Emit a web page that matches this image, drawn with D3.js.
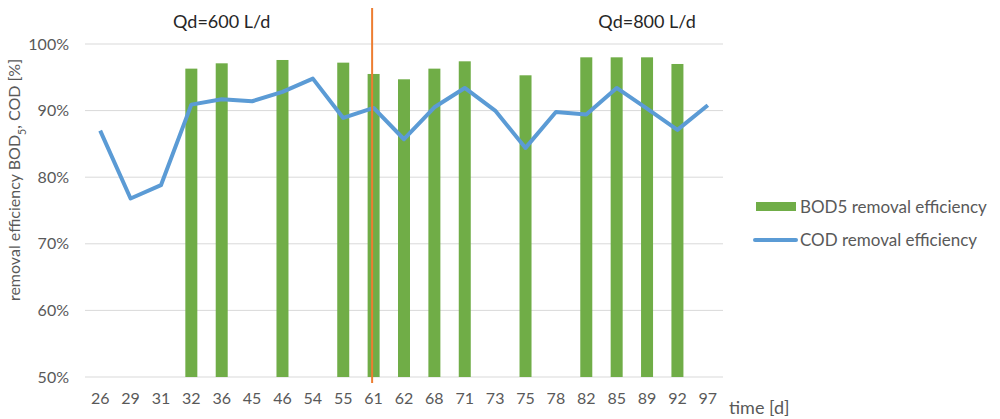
<!DOCTYPE html>
<html><head><meta charset="utf-8">
<script src="https://cdn.jsdelivr.net/npm/d3@7/dist/d3.min.js"></script>
<style>body{margin:0;background:#fff}svg{display:block}text{font-family:Lato,"Open Sans",sans-serif}</style>
</head><body><svg id="c" width="1000" height="419"></svg>
<script>
const categories = ["26","29","31","32","36","45","46","54","55","61","62","68","71","73","75","78","82","85","89","92","97"];
const bod5 = [null,null,null,96.3,97.1,null,97.6,null,97.2,95.5,94.7,96.3,97.4,null,95.3,null,98.0,98.0,98.0,97.0,null];
const cod = [87.0,76.8,78.8,90.9,91.7,91.4,92.8,94.8,88.9,90.4,85.7,90.5,93.4,90.0,84.4,89.8,89.4,93.4,90.3,87.1,90.8];
const yTicks = [50,60,70,80,90,100];
const phaseLabels = [{text:"Qd=600 L/d", at:"36"},{text:"Qd=800 L/d", at:"89"}];
const phaseChange = "61";

const svg = d3.select("#c");
const L=85,R=723,T=44,B=377;
const x = d3.scaleBand().domain(categories).range([L,R]);
const y = d3.scaleLinear().domain([50,100]).range([B,T]);
const grey="#595959";

// gridlines
svg.append("g").selectAll("line").data(yTicks).join("line")
  .attr("x1",L).attr("x2",R).attr("y1",d=>y(d)).attr("y2",d=>y(d))
  .attr("stroke","#d9d9d9").attr("stroke-width",1);

// y labels
svg.append("g").selectAll("text").data(yTicks).join("text")
  .attr("x",69).attr("y",d=>y(d)+5.5).attr("text-anchor","end")
  .attr("fill",grey).style("font-size","16px").text(d=>d+"%");

// x labels
svg.append("g").selectAll("text").data(categories).join("text")
  .attr("x",d=>x(d)+x.bandwidth()/2).attr("y",404).attr("text-anchor","middle")
  .attr("fill",grey).style("font-size","16px").text(d=>d);

// bars
const bw=12;
svg.append("g").selectAll("rect").data(categories.map((c,i)=>({c,v:bod5[i]})).filter(d=>d.v!=null)).join("rect")
  .attr("x",d=>x(d.c)+x.bandwidth()/2-bw/2).attr("width",bw)
  .attr("y",d=>y(d.v)).attr("height",d=>y(50)-y(d.v)).attr("fill","#70ad47");

// line
const line = d3.line().x((d,i)=>x(categories[i])+x.bandwidth()/2).y(d=>y(d));
svg.append("path").datum(cod).attr("d",line).attr("fill","none")
  .attr("stroke","#5b9bd5").attr("stroke-width",4).attr("stroke-linejoin","round");

// phase change line
const px = x(phaseChange)+x.bandwidth()/2-1.5;
svg.append("line").attr("x1",px).attr("x2",px).attr("y1",8).attr("y2",383)
  .attr("stroke","#ed7d31").attr("stroke-width",2);

// phase labels
svg.append("g").selectAll("text").data(phaseLabels).join("text")
  .attr("x",d=>x(d.at)+x.bandwidth()/2).attr("y",28).attr("text-anchor","middle")
  .attr("fill","#262626").style("font-size","18px").text(d=>d.text);

// y axis title
svg.append("text").attr("transform","translate(20,180) rotate(-90)").attr("text-anchor","middle")
  .attr("fill",grey).style("font-size","16px")
  .html('removal efficiency BOD<tspan baseline-shift="sub" style="font-size:10.5px">5</tspan>, COD [%]');

// x axis title
svg.append("text").attr("x",729).attr("y",414).attr("fill",grey).style("font-size","18px").text("time [d]");

// legend
svg.append("rect").attr("x",756).attr("y",202).attr("width",40).attr("height",9).attr("fill","#70ad47");
svg.append("text").attr("x",800).attr("y",213).attr("fill",grey).style("font-size","17px").text("BOD5 removal efficiency");
svg.append("line").attr("x1",755).attr("x2",796).attr("y1",240).attr("y2",240).attr("stroke","#5b9bd5").attr("stroke-width",4).attr("stroke-linecap","round");
svg.append("text").attr("x",800).attr("y",246).attr("fill",grey).style("font-size","17px").text("COD removal efficiency");
</script></body></html>
